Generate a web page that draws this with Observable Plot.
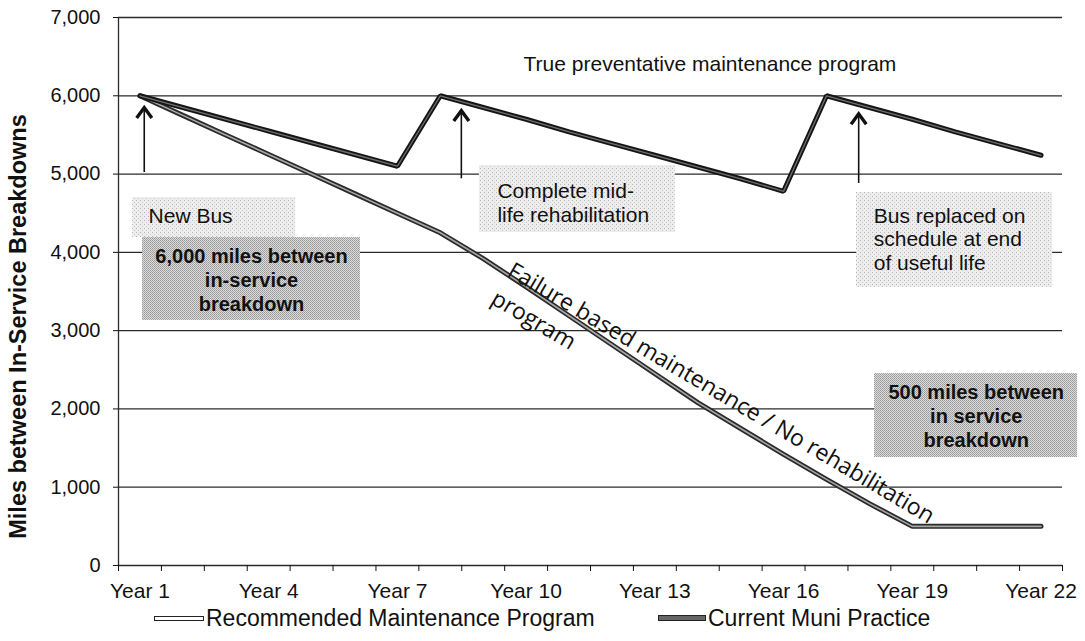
<!DOCTYPE html>
<html>
<head>
<meta charset="utf-8">
<script src="https://cdn.jsdelivr.net/npm/d3@7"></script>
<script src="https://cdn.jsdelivr.net/npm/@observablehq/plot@0.6"></script>
<style>
  html, body { margin: 0; padding: 0; background: #fff; }
  body { width: 1085px; height: 641px; overflow: hidden; font-family: "Liberation Sans", Arial, sans-serif; position: relative; }
  #legend { position: absolute; left: 0; top: 603px; width: 1085px; height: 34px; font-size: 23px; color: #111; }
  .item { position: absolute; top: 0; display: flex; align-items: center; height: 30px; }
  .sw1 { width: 48px; height: 3px; border: 1.5px solid #222; background: #fff; margin-right: 2px; }
  .sw2 { width: 46px; height: 4px; border: 1px solid #222; background: #666; margin-right: 2px; }
</style>
</head>
<body>
<div id="chart"></div>
<div id="legend"></div>
<script>
// ---- data ----
const years = [1,2,3,4,5,6,7,8,9,10,11,12,13,14,15,16,17,18,19,20,21,22];
const recommended = [6000,5850,5700,5550,5400,5250,5100,6000,5850,5700,5540,5390,5240,5090,4940,4780,6000,5850,5700,5540,5390,5240];
const current = [6000,5750,5500,5250,5000,4750,4500,4250,3920,3560,3190,2820,2450,2080,1750,1420,1100,790,500,500,500,500];
const seriesNames = ["Recommended Maintenance Program", "Current Muni Practice"];
const yTicks = [0,1000,2000,3000,4000,5000,6000,7000];
const xTickYears = [1,4,7,10,13,16,19,22];
const yTitle = "Miles between In-Service Breakdowns";

// ---- annotations (data coordinates) ----
const lightBoxes = [
  {x1: 0.83, x2: 4.63, y1: 4190, y2: 4700},
  {x1: 8.91, x2: 13.48, y1: 4253, y2: 5110},
  {x1: 17.70, x2: 22.27, y1: 3551, y2: 4764}
];
const darkBoxes = [
  {x1: 1.06, x2: 6.14, y1: 3130, y2: 4190},
  {x1: 18.12, x2: 22.85, y1: 1380, y2: 2452}
];
const plainNotes = [
  {text: "New Bus", x: 1.20, y: 4470},
  {text: "Complete mid-\nlife rehabilitation", x: 9.33, y: 4637},
  {text: "Bus replaced on\nschedule at end\nof useful life", x: 18.10, y: 4177},
  {text: "True preventative maintenance program", x: 9.94, y: 6412}
];
const boldNotes = [
  {text: "6,000 miles between\nin-service\nbreakdown", x: 3.60, y: 3660},
  {text: "500 miles between\nin service\nbreakdown", x: 20.49, y: 1916}
];
const slantNote = [{text: "Failure based maintenance / No rehabilitation\nprogram", x: 9.80, y: 3960}];
const arrows = [
  {x: 1.10, y1: 5020, y2: 5850},
  {x: 8.49, y1: 4940, y2: 5810},
  {x: 17.75, y1: 4880, y2: 5770}
];

const recData = years.map((y, i) => ({year: y, value: recommended[i]}));
const curData = years.map((y, i) => ({year: y, value: current[i]}));
const boundaries = years.map(y => y - 0.5).concat([years[years.length - 1] + 0.5]);

const chevron = {
  draw(ctx, size) {
    const r = Math.sqrt(size / Math.PI);
    ctx.moveTo(-0.95 * r, 1.3 * r);
    ctx.lineTo(0, 0);
    ctx.lineTo(0.95 * r, 1.3 * r);
  }
};

const chart = Plot.plot({
  width: 1085,
  height: 605,
  marginLeft: 118,
  marginRight: 23,
  marginTop: 17,
  marginBottom: 40,
  x: {type: "linear", domain: [0.5, 22.5]},
  y: {domain: [0, 7000]},
  style: {fontFamily: "'Liberation Sans', Arial, sans-serif", color: "#111", background: "#fff"},
  marks: [
    Plot.ruleY(yTicks, {stroke: "#2b2b2b", strokeWidth: 1.3}),
    Plot.ruleX([0.5], {y1: 0, y2: 7000, stroke: "#2b2b2b", strokeWidth: 1.3}),
    Plot.rect(lightBoxes, {x1: "x1", x2: "x2", y1: "y1", y2: "y2", fill: "url(#stippleLight)"}),
    Plot.rect(darkBoxes, {x1: "x1", x2: "x2", y1: "y1", y2: "y2", fill: "url(#stippleDark)"}),
    Plot.axisY(yTicks, {tickSize: 5, tickPadding: 13, tickFormat: d3.format(","), fontSize: 20, label: null}),
    Plot.axisX(boundaries, {tickSize: 6, tickFormat: () => "", label: null}),
    Plot.axisX(xTickYears, {tickSize: 0, tickPadding: 18, tickFormat: d => `Year ${d}`, fontSize: 21, label: null}),
    Plot.text([yTitle], {frameAnchor: "left", dx: -100, dy: 35, rotate: -90, textAnchor: "middle", fontSize: 23.5, fontWeight: "bold"}),
    // lines
    Plot.line(curData, {x: "year", y: "value", stroke: "#2a2a2a", strokeWidth: 5, strokeLinejoin: "miter"}),
    Plot.line(curData, {x: "year", y: "value", stroke: "#a8a8a8", strokeWidth: 1.6, strokeLinejoin: "miter"}),
    Plot.line(recData, {x: "year", y: "value", stroke: "#151515", strokeWidth: 5, strokeLinejoin: "miter"}),
    Plot.line(recData, {x: "year", y: "value", stroke: "#707070", strokeWidth: 1.3, strokeLinejoin: "miter"}),
    // arrows
    Plot.ruleX(arrows, {x: "x", y1: "y1", y2: "y2", stroke: "#111", strokeWidth: 1.6}),
    Plot.dot(arrows, {x: "x", y: "y2", r: 8, symbol: chevron, fill: "none", stroke: "#111", strokeWidth: 3.4}),
    // notes
    Plot.text(plainNotes, {x: "x", y: "y", text: "text", textAnchor: "start", fontSize: 21, lineHeight: 1.12, fill: "#111"}),
    Plot.text(boldNotes, {x: "x", y: "y", text: "text", textAnchor: "middle", fontSize: 20, fontWeight: "bold", lineHeight: 1.2, fill: "#111"}),
    Plot.text(slantNote, {x: "x", y: "y", text: "text", textAnchor: "start", lineAnchor: "top", rotate: 30.5, fontSize: 23, lineHeight: 1.4, fontFamily: "'Open Sans', sans-serif", fill: "#111"})
  ]
});

// stipple textures for the annotation boxes
d3.select(chart).insert("defs", ":first-child").html(`
  <pattern id="stippleLight" width="4" height="4" patternUnits="userSpaceOnUse">
    <rect width="4" height="4" fill="#ededed"/>
    <rect x="0" y="0" width="1" height="1" fill="#b5b5b5"/>
    <rect x="2" y="2" width="1" height="1" fill="#c8c8c8"/>
  </pattern>
  <pattern id="stippleDark" width="2" height="2" patternUnits="userSpaceOnUse">
    <rect width="2" height="2" fill="#dadada"/>
    <rect x="0" y="0" width="1" height="1" fill="#9a9a9a"/>
    <rect x="1" y="1" width="1" height="1" fill="#a8a8a8"/>
  </pattern>`);

document.getElementById("chart").appendChild(chart);

const legend = document.getElementById("legend");
const legendPos = [154, 658];
seriesNames.forEach((name, i) => {
  const item = document.createElement("div");
  item.className = "item";
  item.style.left = legendPos[i] + "px";
  const sw = document.createElement("span");
  sw.className = i === 0 ? "sw1" : "sw2";
  const t = document.createElement("span");
  t.textContent = name;
  item.appendChild(sw);
  item.appendChild(t);
  legend.appendChild(item);
});
</script>
</body>
</html>
